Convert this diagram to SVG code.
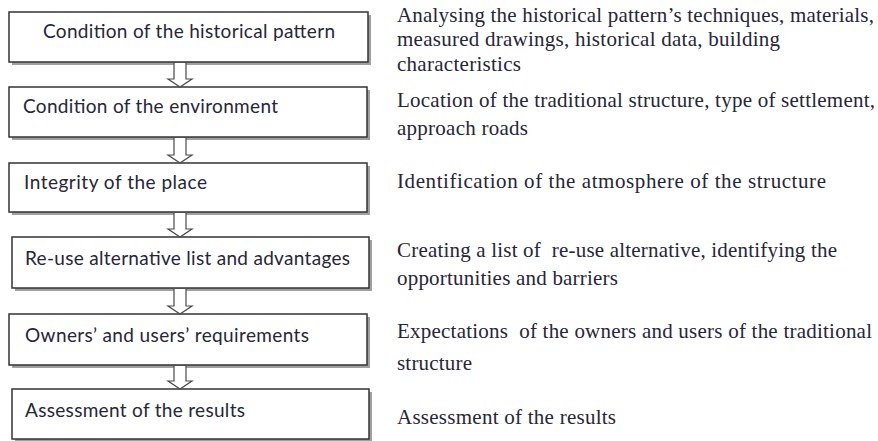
<svg xmlns="http://www.w3.org/2000/svg" width="878" height="441" viewBox="0 0 878 441">
<style>
  .shadow { fill: #a0a0a0; }
  .box { fill: #ffffff; stroke: #333333; stroke-width: 1.5; }
  .arrow { fill: #ffffff; stroke: #4a4a4a; stroke-width: 1.2; stroke-linejoin: miter; }
  .lt { font-family: Lato, "Noto Sans", "Liberation Sans", sans-serif; font-size: 19px; fill: #262638; }
  .rt { font-family: "Liberation Serif", "DejaVu Serif", serif; font-size: 21px; fill: #262638; }
</style>
<rect width="878" height="441" fill="#ffffff"/>

<g id="node1">
  <rect class="shadow" x="12" y="15" width="359" height="50"/>
  <rect class="box" x="9" y="12" width="359" height="50"/>
  <text class="lt" x="43" y="38" textLength="292" lengthAdjust="spacing">Condition of the historical pattern</text>
</g>
<g id="node2">
  <rect class="shadow" x="12" y="90" width="358" height="50"/>
  <rect class="box" x="9" y="87" width="358" height="50"/>
  <text class="lt" x="23" y="113" textLength="255" lengthAdjust="spacing">Condition of the environment</text>
</g>
<g id="node3">
  <rect class="shadow" x="12" y="166" width="358" height="49"/>
  <rect class="box" x="9" y="163" width="358" height="49"/>
  <text class="lt" x="24" y="189" textLength="183" lengthAdjust="spacing">Integrity of the place</text>
</g>
<g id="node4">
  <rect class="shadow" x="15" y="240" width="357" height="51"/>
  <rect class="box" x="12" y="237" width="357" height="51"/>
  <text class="lt" x="25" y="265" textLength="325" lengthAdjust="spacing">Re-use alternative list and advantages</text>
</g>
<g id="node5">
  <rect class="shadow" x="12" y="317" width="358" height="51"/>
  <rect class="box" x="9" y="314" width="358" height="51"/>
  <text class="lt" x="25" y="342" textLength="284" lengthAdjust="spacing">Owners’ and users’ requirements</text>
</g>
<g id="node6">
  <rect class="shadow" x="15" y="392" width="357" height="50"/>
  <rect class="box" x="12" y="389" width="357" height="50"/>
  <text class="lt" x="25" y="417" textLength="220" lengthAdjust="spacing">Assessment of the results</text>
</g>

<g id="connectors">
  <path class="arrow" d="M174,63 V79 H168 L180,87 L192,79 H186 V63"/>
  <path class="arrow" d="M174,138 V155 H168 L180,163 L192,155 H186 V138"/>
  <path class="arrow" d="M174,213 V229 H168 L180,237 L192,229 H186 V213"/>
  <path class="arrow" d="M174,289 V306 H168 L180,314 L192,306 H186 V289"/>
  <path class="arrow" d="M174,366 V381 H168 L180,389 L192,381 H186 V366"/>
</g>

<g id="descriptions">
  <text class="rt" x="397" y="22" textLength="477" lengthAdjust="spacing">Analysing the historical pattern’s techniques, materials,</text>
  <text class="rt" x="397" y="46" textLength="383" lengthAdjust="spacing">measured drawings, historical data, building</text>
  <text class="rt" x="397" y="71" textLength="124" lengthAdjust="spacing">characteristics</text>
  <text class="rt" x="397" y="107" textLength="478" lengthAdjust="spacing">Location of the traditional structure, type of settlement,</text>
  <text class="rt" x="397" y="135" textLength="131" lengthAdjust="spacing">approach roads</text>
  <text class="rt" x="397" y="188" textLength="429" lengthAdjust="spacing">Identification of the atmosphere of the structure</text>
  <text class="rt" x="397" y="257" textLength="440" lengthAdjust="spacing" xml:space="preserve">Creating a list of  re-use alternative, identifying the</text>
  <text class="rt" x="397" y="285" textLength="221" lengthAdjust="spacing">opportunities and barriers</text>
  <text class="rt" x="397" y="338" textLength="475" lengthAdjust="spacing" xml:space="preserve">Expectations  of the owners and users of the traditional</text>
  <text class="rt" x="397" y="370" textLength="75" lengthAdjust="spacing">structure</text>
  <text class="rt" x="397" y="424" textLength="219" lengthAdjust="spacing">Assessment of the results</text>
</g>
</svg>
